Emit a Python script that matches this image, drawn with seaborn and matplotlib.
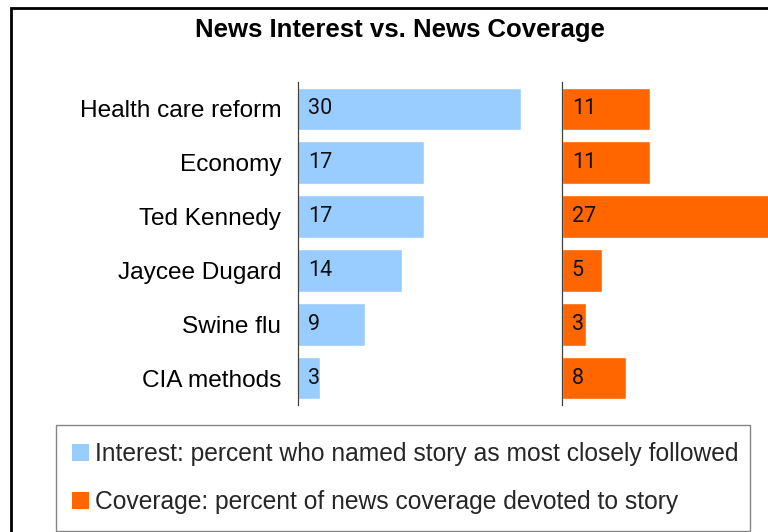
import matplotlib
matplotlib.use("Agg")
import matplotlib.pyplot as plt
import seaborn as sns
import pandas as pd
from matplotlib.patches import Patch, Rectangle

# ---- data ----
stories = ["Health care reform", "Economy", "Ted Kennedy", "Jaycee Dugard", "Swine flu", "CIA methods"]
interest = [30, 17, 17, 14, 9, 3]
coverage = [11, 11, 27, 5, 3, 8]
title = "News Interest vs. News Coverage"
legend_labels = ["Interest: percent who named story as most closely followed",
                 "Coverage: percent of news coverage devoted to story"]

BLUE = "#99CCFF"
ORANGE = "#FF6600"

sns.set_theme(style="white")
plt.rcParams["font.family"] = ["Liberation Sans", "DejaVu Sans"]

W, H = 768, 532
fig = plt.figure(figsize=(W / 100, H / 100), dpi=100)
fig.patch.set_facecolor("white")


def rect(x0, y0, x1, y1):
    return [x0 / W, 1 - y1 / H, (x1 - x0) / W, (y1 - y0) / H]


df = pd.DataFrame({"story": stories, "interest": interest, "coverage": coverage})

ax1 = fig.add_axes(rect(298, 82, 521, 405))
ax2 = fig.add_axes(rect(562, 82, 768, 405))

sns.barplot(data=df, x="interest", y="story", color=BLUE, saturation=1,
            width=0.79, orient="h", ax=ax1)
sns.barplot(data=df, x="coverage", y="story", color=ORANGE, saturation=1,
            width=0.79, orient="h", ax=ax2)

ax1.set_xlim(0, 30)
ax2.set_xlim(0, (768 - 562) / 7.97)

for ax in (ax1, ax2):
    ax.set_facecolor("none")
    ax.set_xlabel("")
    ax.set_ylabel("")
    ax.set_xticks([])
    ax.tick_params(axis="y", length=0)
    for s in ("top", "right", "bottom"):
        ax.spines[s].set_visible(False)
    ax.spines["left"].set_color("#404040")
    ax.spines["left"].set_linewidth(0.9)
    ax.set_ylim(5.5, -0.5)

ax1.tick_params(axis="y", pad=12, labelsize=17.6, labelcolor="black")
ax2.set_yticklabels([])

for ax, vals in ((ax1, interest), (ax2, coverage)):
    for i, v in enumerate(vals):
        ax.annotate(str(v), xy=(0, i), xycoords="data", xytext=(7, 0),
                    textcoords="offset points", ha="left", va="center",
                    fontsize=15.5, family=["Roboto", "DejaVu Sans"], color="#111111")

fig.text(400 / W, 1 - 30 / H, title, ha="center", va="center",
         fontsize=18.5, fontweight="bold", color="black")

# outer border (only top and left edges fall inside the image)
fig.add_artist(Rectangle((11 / W, -0.2), 1.5, 1 - 8 / H + 0.2, fill=False,
                         edgecolor="black", linewidth=2.0,
                         transform=fig.transFigure))

handles = [Patch(facecolor=BLUE, edgecolor="none"),
           Patch(facecolor=ORANGE, edgecolor="none")]
leg = fig.legend(handles, legend_labels, loc="center left",
                 bbox_to_anchor=(56 / W, 1 - 527 / H, (750 - 56) / W, (527 - 429) / H),
                 mode="expand", fontsize=17.7, frameon=True, fancybox=False,
                 handlelength=0.68, handleheight=0.68, handletextpad=0.25,
                 labelspacing=1.0, borderpad=0.66, borderaxespad=0)
leg.get_frame().set_edgecolor("#666666")
leg.get_frame().set_linewidth(1.0)

fig.savefig("out.png", dpi=100, facecolor="white")
